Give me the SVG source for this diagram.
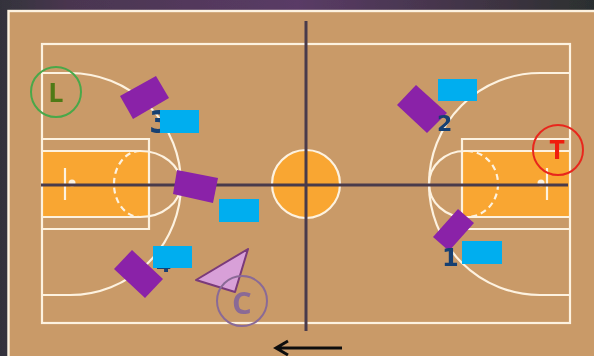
<svg xmlns="http://www.w3.org/2000/svg" width="594" height="356" viewBox="0 0 594 356">
<defs>
<linearGradient id="bg" x1="0" y1="0" x2="1" y2="0"><stop offset="0" stop-color="#33333b"/><stop offset="0.12" stop-color="#4a3650"/><stop offset="0.5" stop-color="#5a3b66"/><stop offset="0.85" stop-color="#3c3340"/><stop offset="1" stop-color="#2b2f2f"/></linearGradient>
<filter id="soft" x="-2%" y="-2%" width="104%" height="104%"><feGaussianBlur stdDeviation="0.45"/></filter>
</defs>
<style>
.ln{fill:none;stroke:#fdf2e0;stroke-width:2.2}
.dash{stroke-dasharray:6 4}
.paint{fill:#f9a630}
.dark{stroke:#4a3a4c;stroke-width:3;fill:none}
.player{fill:#8a22a8}
.blue{fill:#00aeef}
.num{font:bold 22px "DejaVu Sans",sans-serif;fill:#153f72}
.ring{fill:none;stroke-width:2}
.let{font:bold 27px "Open Sans",sans-serif;text-anchor:middle}
</style>
<g filter="url(#soft)">
<rect width="594" height="356" fill="url(#bg)"/>
<g id="court">
<rect x="8.5" y="11" width="590" height="350" fill="#c99a68" stroke="#fdf2e0" stroke-width="2.4"/>
<rect class="paint" x="42" y="151" width="107" height="66"/>
<rect class="paint" x="462" y="151" width="108" height="66"/>
<circle cx="306" cy="184" r="34" class="paint"/>
<rect class="ln" x="42" y="44" width="528" height="279"/>
<path class="ln" d="M42 139H149V229H42M42 151H140M42 217H140"/>
<path class="ln" d="M570 139H462V229H570M570 151H465M570 217H465"/>
<path class="ln" d="M42 73H70A111 111 0 0 1 70 295H42"/>
<path class="ln" d="M570 73H540A111 111 0 0 0 540 295H570"/>
<path class="ln" d="M140 151A41 33 0 0 1 140 217"/>
<path class="ln dash" d="M140 151A26 33 0 0 0 140 217"/>
<path class="ln" d="M465 151A36 33 0 0 0 465 217"/>
<path class="ln dash" d="M467 151A31 33 0 0 1 467 217"/>
<circle class="ln" cx="306" cy="184" r="34"/>
<path class="ln" d="M65 168V200M547 168V200"/>
<circle cx="72" cy="183" r="3.5" fill="#fdf2e0"/>
<circle cx="541" cy="183" r="3.5" fill="#fdf2e0"/>
</g>
<g id="connectors">
<path class="dark" d="M41 185H568"/>
<path class="dark" d="M306 21V331"/>
<path d="M342 348H277M288 341L276 348L288 355" fill="none" stroke="#111" stroke-width="3"/>
</g>
<g id="player-3"><text class="num" x="149" y="133" style="font-size:32px">3</text><polygon class="player" points="120,96 156,76 169,98 133,119"/><rect class="blue" x="160" y="110" width="39" height="23"/></g>
<g id="player-5"><polygon class="player" points="177,170 218,178 213,203 173,194"/><rect class="blue" x="219" y="199" width="40" height="23"/></g>
<g id="player-4"><text class="num" x="156" y="272">4</text><polygon class="player" points="132,250 163,279 145,298 114,269"/><rect class="blue" x="153" y="246" width="39" height="22"/></g>
<g id="player-2"><polygon class="player" points="416,85 447,113 427,133 397,105"/><text class="num" x="437" y="131">2</text><rect class="blue" x="438" y="79" width="39" height="22"/></g>
<g id="player-1"><polygon class="player" points="458,209 474,223 449,251 433,237"/><text class="num" x="442" y="266" style="font-size:24px">1</text><rect class="blue" x="462" y="241" width="40" height="23"/></g>
<g id="defender"><polygon points="248,249 196,280 235,292" fill="#d8a0d8" stroke="#7a3a7a" stroke-width="2" stroke-linejoin="round"/></g>
<g id="node-c"><circle class="ring" cx="242" cy="301" r="25" stroke="#8a6a96"/><text class="let" x="242" y="314" fill="#8a6a96" style="font-size:31px">C</text></g>
<g id="node-l"><circle class="ring" cx="56" cy="92" r="25" stroke="#4aa84a"/><text class="let" x="56" y="102" fill="#4f7a12">L</text></g>
<g id="node-t"><circle class="ring" cx="558" cy="150" r="25" stroke="#e8281e"/><text class="let" x="557" y="159" fill="#f01a10">T</text></g>
</g>
</svg>
